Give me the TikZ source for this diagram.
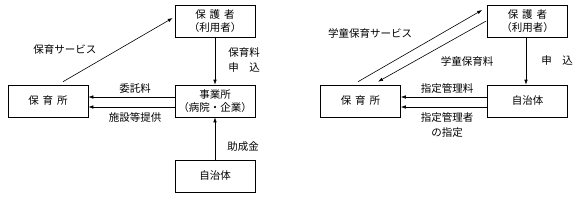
\documentclass[tikz,border=0pt]{standalone}
\usepackage{fontspec}
\setmainfont{Noto Sans CJK JP}
\usetikzlibrary{arrows.meta}
\newcommand{\gp}{\hspace{4pt}}
\begin{document}
\begin{tikzpicture}[x=1pt,y=-1pt,
  box/.style={draw,line width=0.6pt,minimum width=80pt,minimum height=32pt,inner sep=1pt,align=center,font=\fontsize{10.5}{13.5}\selectfont},
  lbl/.style={inner sep=0pt,align=center,font=\fontsize{10.5}{15}\selectfont},
  arr/.style={line width=0.6pt,-{Latex[length=5pt,width=3.5pt]}}]
\useasboundingbox (0,0) rectangle (582,201);
% left diagram
\node[box] (hogo1) at (215,21) {保\gp 護\gp 者\\（利用者）};
\node[box] (hoiku1) at (48,101) {保\gp 育\gp 所};
\node[box] (jigyo) at (215,101) {事業所\\（病院・企業）};
\node[box] (jichi1) at (215,176) {自治体};
\draw[arr] ([xshift=15pt,yshift=3pt]hoiku1.north) -- ([xshift=-2pt,yshift=3pt]hogo1.west);
\draw[arr] (hogo1.south) -- (jigyo.north);
\draw[arr] ([yshift=4pt]jigyo.west) -- ([yshift=4pt]hoiku1.east);
\draw[arr] ([yshift=-6pt]jigyo.west) -- ([yshift=-6pt]hoiku1.east);
\draw[arr] (jichi1.north) -- (jigyo.south);
\node[lbl] (l1) at (65,50) {保育サービス};
\node[lbl] (l2) at (244,60) {保育料\\申\quad 込};
\node[lbl] (l3) at (135,89) {委託料};
\node[lbl] (l4) at (135,117) {施設等提供};
\node[lbl] (l5) at (243,147) {助成金};
% right diagram
\node[box] (hogo2) at (527.5,21) {保\gp 護\gp 者\\（利用者）};
\node[box] (hoiku2) at (360.5,101) {保\gp 育\gp 所};
\node[box] (jichi2) at (527.5,101) {自治体};
\draw[arr] ([xshift=-2.5pt,yshift=3pt]hoiku2.north) -- ([xshift=-5pt,yshift=11pt]hogo2.west);
\draw[arr] ([xshift=-1pt]hogo2.west) -- ([xshift=17.5pt,yshift=3pt]hoiku2.north);
\draw[arr] ([xshift=-1.5pt]hogo2.south) -- ([xshift=-1.5pt]jichi2.north);
\draw[arr] ([yshift=4pt]jichi2.west) -- ([yshift=4pt]hoiku2.east);
\draw[arr] ([yshift=-6pt]jichi2.west) -- ([yshift=-6pt]hoiku2.east);
\node[lbl] (r1) at (370,33) {学童保育サービス};
\node[lbl] (r2) at (467,61) {学童保育料};
\node[lbl] (r3) at (557,61) {申\quad 込};
\node[lbl] (r4) at (447,89) {指定管理料};
\node[lbl] (r5) at (447,125) {指定管理者\\の指定};
\end{tikzpicture}
\end{document}
